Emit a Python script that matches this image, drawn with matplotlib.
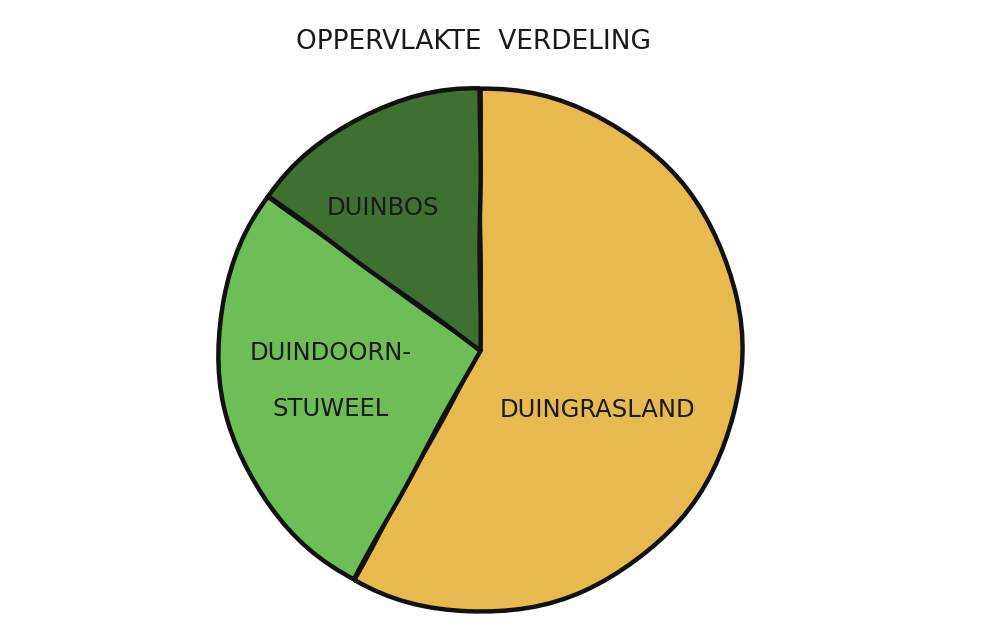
import matplotlib
matplotlib.use("Agg")
import matplotlib.pyplot as plt

categories = ["DUINGRASLAND", "DUINDOORN-\nSTUWEEL", "DUINBOS"]
values = [58, 27, 15]
colors = ["#E8B94F", "#6DBE57", "#3E7130"]
title = "OPPERVLAKTE  VERDELING"

plt.xkcd(scale=0.6, length=160, randomness=1)
plt.rcParams['font.family'] = ['DejaVu Sans']
plt.rcParams['path.effects'] = []

fig = plt.figure(figsize=(9.91, 6.31), dpi=100)
fig.patch.set_facecolor("white")
ax = fig.add_axes([0.220, 0.030, 0.529, 0.830])

wedges, _ = ax.pie(values, colors=colors, startangle=90, counterclock=False,
                   wedgeprops=dict(edgecolor="#111111", linewidth=3.2))
ax.set_aspect("equal")
ax.set_xlim(-1.0, 1.0)
ax.set_ylim(-1.0, 1.0)

label_pos = [(0.448, -0.229), (-0.57, -0.118), (-0.37, 0.542)]
for name, (x, y) in zip(categories, label_pos):
    ax.text(x, y, name, ha="center", va="center", fontsize=17.5,
            color="#1a1a1a", linespacing=2.7)

fig.text(0.478, 0.933, title, ha="center", va="center", fontsize=19, color="#1a1a1a")

fig.savefig("out.png", dpi=100, facecolor="white")
